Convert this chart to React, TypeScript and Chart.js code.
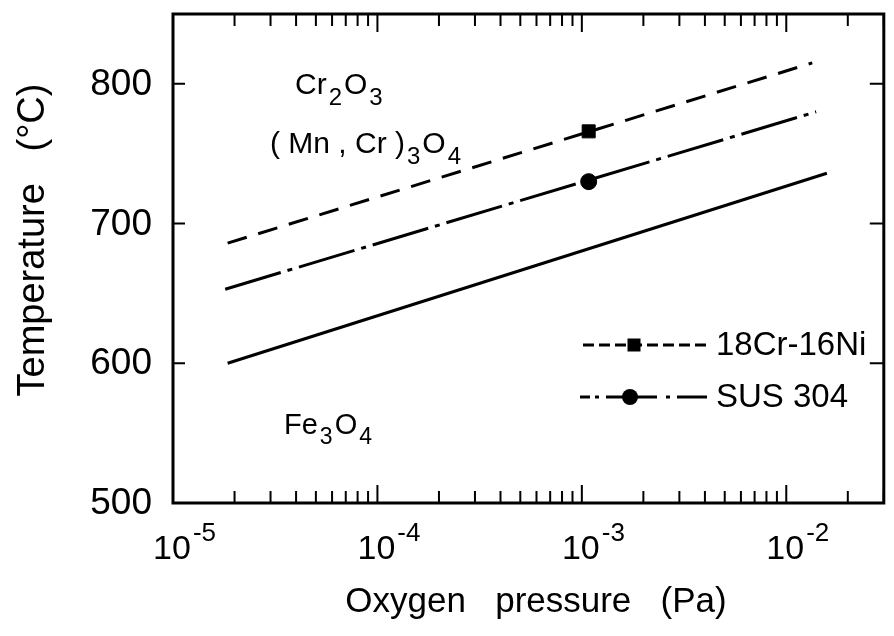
import React, { useEffect, useRef } from "react";
import { Chart, registerables } from "chart.js";

Chart.register(...registerables);

// ---- data ----
const solidPressure = [1.85e-5, 1.58e-2];
const solidTemp = [600, 736];
const crNiPressure = [1.85e-5, 1.34e-2];
const crNiTemp = [686, 815];
const susPressure = [1.8e-5, 1.4e-2];
const susTemp = [653, 780];
const markerPressure = [1.08e-3];
const crNiMarkerTemp = [766];
const susMarkerTemp = [730];

const yTickValues = [500, 600, 700, 800];
const yTickLabels = ["500", "600", "700", "800"];
const xDecades = [1e-5, 1e-4, 1e-3, 1e-2];
const xDecadeExponents = ["-5", "-4", "-3", "-2"];
const legendNames = ["18Cr-16Ni", "SUS 304"];

const FONT = "'Liberation Sans', Arial, sans-serif";

const toPts = (xs: number[], ys: number[]) => xs.map((x, i) => ({ x, y: ys[i] }));

function drawChem(ctx: CanvasRenderingContext2D, parts: [string, boolean][], x: number, y: number, size: number) {
  let cx = x;
  for (const [t, sub] of parts) {
    if (sub) {
      ctx.font = `${Math.round(size * 0.8)}px ${FONT}`;
      cx += 2;
      ctx.fillText(t, cx, y + size * 0.36);
      cx += ctx.measureText(t).width + 2;
    } else {
      ctx.font = `${size}px ${FONT}`;
      ctx.fillText(t, cx, y);
      cx += ctx.measureText(t).width;
    }
  }
}

function seg(ctx: CanvasRenderingContext2D, x1: number, x2: number, y: number) {
  ctx.beginPath();
  ctx.moveTo(x1, y);
  ctx.lineTo(x2, y);
  ctx.stroke();
}

const decorPlugin = {
  id: "decor",
  afterDraw(chart: any) {
    const ctx: CanvasRenderingContext2D = chart.ctx;
    const { left, right, top, bottom } = chart.chartArea;
    const xs = chart.scales.x;
    const ys = chart.scales.y;
    ctx.save();
    ctx.fillStyle = "#000";
    ctx.strokeStyle = "#000";

    // frame
    ctx.lineWidth = 3;
    ctx.strokeRect(left, top, right - left, bottom - top);

    // x ticks (log) top and bottom
    ctx.lineWidth = 2;
    for (const d of xDecades) {
      for (let m = 1; m <= 9; m++) {
        const v = d * m;
        if (v < xs.min || v > xs.max) continue;
        const px = xs.getPixelForValue(v);
        const len = m === 1 ? 18 : 12;
        ctx.beginPath();
        ctx.moveTo(px, bottom);
        ctx.lineTo(px, bottom - len);
        ctx.moveTo(px, top);
        ctx.lineTo(px, top + len);
        ctx.stroke();
      }
    }
    // y ticks left and right
    for (const v of yTickValues) {
      const py = ys.getPixelForValue(v);
      ctx.beginPath();
      ctx.moveTo(left, py);
      ctx.lineTo(left + 12, py);
      ctx.moveTo(right, py);
      ctx.lineTo(right - 14, py);
      ctx.stroke();
    }

    // y tick labels
    ctx.font = `37px ${FONT}`;
    ctx.textAlign = "right";
    ctx.textBaseline = "middle";
    yTickValues.forEach((v, i) => {
      ctx.fillText(yTickLabels[i], left - 21, ys.getPixelForValue(v) + 1);
    });

    // x tick labels 10^n
    ctx.textAlign = "left";
    ctx.textBaseline = "alphabetic";
    xDecades.forEach((v, i) => {
      const px = xs.getPixelForValue(v);
      ctx.font = `34px ${FONT}`;
      const w = ctx.measureText("10").width;
      const x0 = px - 1 - w / 2;
      ctx.fillText("10", x0, bottom + 56);
      ctx.font = `26px ${FONT}`;
      ctx.fillText(xDecadeExponents[i], x0 + w + 2, bottom + 38);
    });

    // axis titles
    ctx.textAlign = "center";
    ctx.textBaseline = "middle";
    ctx.font = `35px ${FONT}`;
    ctx.fillText("Oxygen   pressure   (Pa)", 536, 602);
    ctx.save();
    ctx.translate(34, 240);
    ctx.rotate(-Math.PI / 2);
    ctx.font = `38px ${FONT}`;
    ctx.fillText("Temperature   (\u00B0C)", 0, 0);
    ctx.restore();

    // region labels
    ctx.textAlign = "left";
    ctx.textBaseline = "alphabetic";
    drawChem(ctx, [["Cr", false], ["2", true], ["O", false], ["3", true]], 295, 94, 30);
    drawChem(ctx, [["( Mn , Cr )", false], ["3", true], ["O", false], ["4", true]], 270, 153, 30);
    drawChem(ctx, [["Fe", false], ["3", true], ["O", false], ["4", true]], 284, 434, 29);

    // legend
    const rows = [345, 397];
    ctx.lineWidth = 3;
    // row 1 dashed + square
    ctx.setLineDash([11, 5]);
    seg(ctx, 583, 707, rows[0]);
    ctx.setLineDash([]);
    ctx.fillRect(634 - 6.5, rows[0] - 6.5, 13, 13);
    // row 2 dash-dot + circle
    seg(ctx, 580, 590, rows[1]);
    seg(ctx, 595, 599, rows[1]);
    seg(ctx, 606, 657, rows[1]);
    seg(ctx, 666, 670, rows[1]);
    seg(ctx, 677, 707, rows[1]);
    ctx.beginPath();
    ctx.arc(630, rows[1], 8, 0, Math.PI * 2);
    ctx.fill();

    ctx.font = `33px ${FONT}`;
    ctx.textBaseline = "middle";
    ctx.fillText(legendNames[0], 716, rows[0] + 1);
    ctx.fillText(legendNames[1], 716, rows[1] + 1);

    ctx.restore();
  },
};

export default function App() {
  const ref = useRef<HTMLCanvasElement | null>(null);
  useEffect(() => {
    if (!ref.current) return;
    const chart = new Chart(ref.current, {
      type: "line",
      data: {
        datasets: [
          {
            label: "boundary",
            data: toPts(solidPressure, solidTemp),
            borderColor: "#000",
            borderWidth: 3,
            pointRadius: 0,
          },
          {
            label: legendNames[0],
            data: toPts(crNiPressure, crNiTemp),
            borderColor: "#000",
            borderWidth: 3,
            borderDash: [20, 12],
            pointRadius: 0,
          },
          {
            label: legendNames[1],
            data: toPts(susPressure, susTemp),
            borderColor: "#000",
            borderWidth: 3,
            borderDash: [58, 7, 5, 7],
            pointRadius: 0,
          },
          {
            label: legendNames[0] + " point",
            data: toPts(markerPressure, crNiMarkerTemp),
            showLine: false,
            pointStyle: "rect",
            pointRadius: 9.2,
            backgroundColor: "#000",
            borderColor: "#000",
          },
          {
            label: legendNames[1] + " point",
            data: toPts(markerPressure, susMarkerTemp),
            showLine: false,
            pointStyle: "circle",
            pointRadius: 8,
            backgroundColor: "#000",
            borderColor: "#000",
          },
        ],
      },
      options: {
        responsive: false,
        animation: false,
        layout: { padding: { left: 173, top: 14, right: 1, bottom: 133 } },
        scales: {
          x: { type: "logarithmic", min: 1e-5, max: 3e-2, display: false },
          y: { type: "linear", min: 500, max: 850, display: false },
        },
        plugins: { legend: { display: false }, tooltip: { enabled: false } },
      },
      plugins: [decorPlugin],
    });
    return () => chart.destroy();
  }, []);
  return (
    <div style={{ position: "absolute", left: 0, top: 0, width: 894, height: 636, background: "#fff" }}>
      <canvas ref={ref} width={894} height={636} />
    </div>
  );
}
